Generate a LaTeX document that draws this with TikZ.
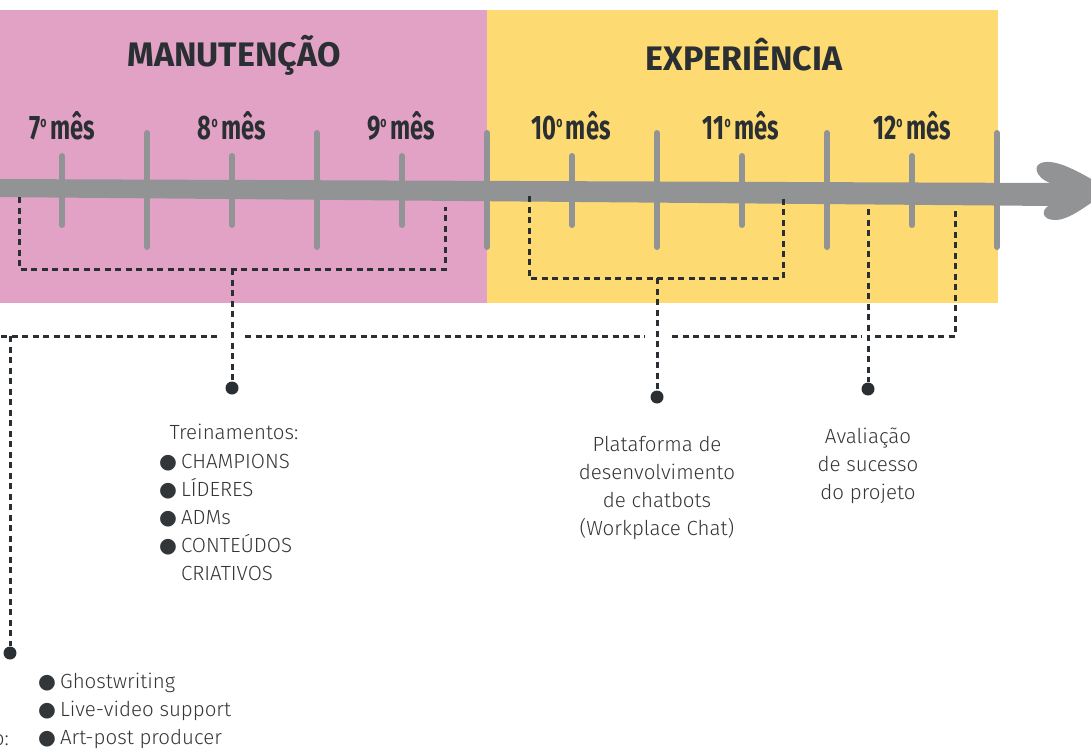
\documentclass[tikz,border=0pt]{standalone}
\usepackage{fontspec}
\usepackage{graphicx}
\IfFontExistsTF{Fira Sans Light}{\newfontfamily\bodyf{Fira Sans Light}}{\newfontfamily\bodyf{Fira Sans}}
\newfontfamily\headf{Fira Sans}
\newfontfamily\symf{DejaVu Sans}
\definecolor{pinkband}{HTML}{E2A2C6}
\definecolor{yellowband}{HTML}{FDDA72}
\definecolor{axisgray}{HTML}{929395}
\definecolor{ink}{HTML}{2A2F33}
\definecolor{bodyink}{HTML}{333638}
\newcommand{\bul}{{\symf ●}\hspace{4pt}}
\newcommand{\mes}[1]{\scalebox{0.7}[1]{#1\raisebox{0.36em}{\fontsize{15}{15}\selectfont o}\hspace{5pt}mês}}
\tikzset{
  header/.style={font=\headf\bfseries\fontsize{34}{34}\selectfont, text=ink, inner sep=0pt},
  month/.style={font=\headf\bfseries\fontsize{34}{34}\selectfont, text=ink, inner sep=0pt},
  longtick/.style={draw=axisgray, line width=6pt, line cap=round},
  shorttick/.style={draw=axisgray, line width=6pt, line cap=round},
  dashline/.style={draw=ink, line width=3pt, dash pattern=on 6pt off 4.5pt},
  dot/.style={circle, fill=ink, inner sep=0pt, minimum size=13pt},
  body/.style={font=\bodyf\fontsize{20.5}{28}\selectfont, text=bodyink, inner sep=0pt},
}
\begin{document}
\begin{tikzpicture}[x=1pt,y=-1pt]
\useasboundingbox (0,0) rectangle (1091,749);
% bands
\fill[pinkband] (-5,10) rectangle (487,303);
\fill[yellowband] (487,10) rectangle (998,303);
% headers
\node[header] (hman) at (234,55) {MANUTENÇÃO};
\node[header] (hexp) at (744,55) {EXPERIÊNCIA};
% month labels
\node[month] (m7) at (62,126) {\mes{7}};
\node[month] (m8) at (232,126) {\mes{8}};
\node[month] (m9) at (401,126) {\mes{9}};
\node[month] (m10) at (571,126) {\mes{10}};
\node[month] (m11) at (741,126) {\mes{11}};
\node[month] (m12) at (912,126) {\mes{12}};
% arrow shaft
\fill[axisgray] (-10,179) -- (1052,183) -- (1052,206) -- (-10,197) -- cycle;
% arrow head
\fill[axisgray] (1050,183) .. controls (1036,178) and (1030,163) .. (1046,162) .. controls (1060,161) and (1080,172) .. (1110,190) .. controls (1087,205) and (1070,220) .. (1055,220) .. controls (1042,220) and (1040,210) .. (1050,205) -- cycle;
% ticks
\foreach \x in {147,317,487,657,827,997} \draw[longtick] (\x,133) -- (\x,247);
\foreach \x in {62,232,402,572,742,912} \draw[shorttick] (\x,156) -- (\x,225);
% coordinates
\coordinate (b1l) at (19,197);
\coordinate (b1r) at (445,207);
\coordinate (b1m) at (232,269);
\coordinate (b2l) at (529,196);
\coordinate (b2r) at (783,196);
\coordinate (b2m) at (657,278);
\coordinate (s3) at (868,209);
\coordinate (s4) at (955,207);
\coordinate (hl) at (-20,336);
\coordinate (hc) at (10,336);
% dots
\node[dot] (dA) at (232,388) {};
\node[dot] (dB) at (657,397) {};
\node[dot] (dC) at (868,389) {};
\node[dot] (dD) at (10,653) {};
% brackets and connectors
\draw[dashline] (b1l) |- (b1r |- b1m) -- (b1r);
\draw[dashline] (b1m) -- (dA);
\draw[dashline] (b2l) |- (b2r |- b2m) -- (b2r);
\draw[dashline] (b2m) -- (dB);
\draw[dashline] (s3) -- (dC);
\draw[dashline] (hl) -- (218,336);
\draw[dashline] (245,336) -- (645,336);
\draw[dashline] (672,336) -- (862,336);
\draw[dashline] (875,336) -| (s4);
\draw[dashline] (hc) -- (dD);
% texts
\node[body, anchor=north] (treino) at (234,424) {Treinamentos:};
\node[body, anchor=north west, align=left] (lista) at (159,454) {\bul CHAMPIONS\\ \bul LÍDERES\\ \bul ADMs\\ \bul CONTEÚDOS\\ \hphantom{\bul}CRIATIVOS};
\node[body, anchor=north, align=center] (plat) at (657,436) {Plataforma de\\ desenvolvimento\\ de chatbots\\ (Workplace Chat)};
\node[body, anchor=north, align=center] (aval) at (868,428) {Avaliação\\ de sucesso\\ do projeto};
\node[body, anchor=north west, align=left] (ghost) at (38,673) {\bul Ghostwriting\\ \bul Live-video support\\ \bul Art-post producer};
\node[body, anchor=base east] (cut) at (9,745) {o:};
\end{tikzpicture}
\end{document}
